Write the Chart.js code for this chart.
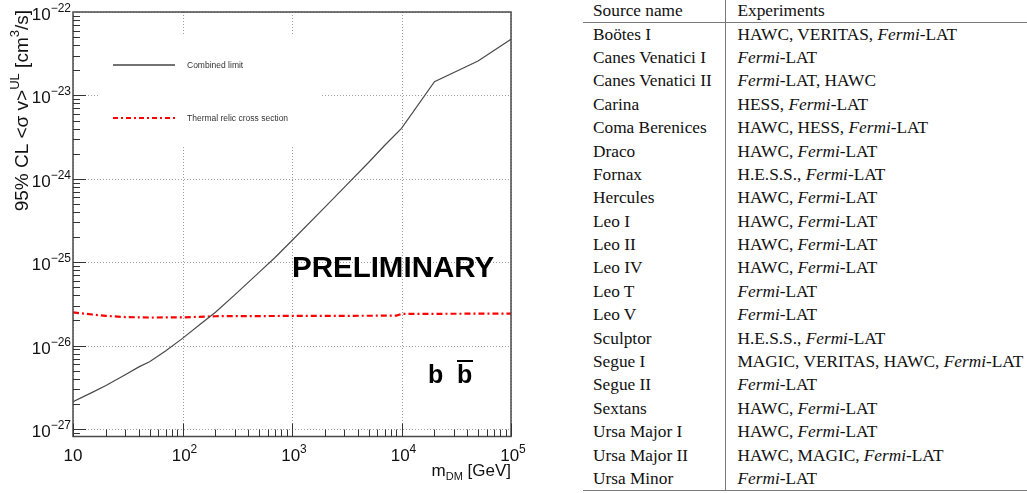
<!DOCTYPE html>
<html>
<head>
<meta charset="utf-8">
<title>bb limit and dwarf sources</title>
<script src="https://cdn.jsdelivr.net/npm/chart.js@4.4.1/dist/chart.umd.min.js"></script>
<style>
  html, body { margin: 0; padding: 0; background: #fff; }
  body { width: 1027px; height: 493px; position: relative; overflow: hidden; }
  #plotWrap { position: absolute; left: 0; top: 0; width: 560px; height: 493px; }
  #sources {
    position: absolute; left: 583px; top: 0; width: 444px;
    border-collapse: collapse; table-layout: fixed;
    font-family: "Liberation Serif", "Times New Roman", serif; font-size: 17.3px; color: #111;
  }
  #sources td, #sources th { padding: 0; font-weight: normal; text-align: left; white-space: nowrap; line-height: 1; }
  #sources th { height: 21.5px; border-bottom: 1.3px solid #7a7a7a; }
  #sources td { height: 23.4px; }
  #sources tr:last-child td { border-bottom: 1.3px solid #7a7a7a; }
  #sources .c1 { width: 142px; padding-left: 10px; box-sizing: border-box; border-right: 1.5px solid #7a7a7a; }
  #sources .c2 { padding-left: 12px; }
  #sources i { font-style: italic; }
</style>
</head>
<body>
<div id="plotWrap"><canvas id="limitChart" width="560" height="493"></canvas></div>
<table id="sources"><thead></thead><tbody></tbody></table>

<script>
// --- Data ------------------------------------------------------
const massGeV = [10, 15, 20, 30, 40, 50, 70, 100, 150, 200, 300, 500, 700, 1000, 2000, 3000, 5000, 7000,
                 10000, 20000, 50000, 100000];
const combinedLimit = [2.12e-27, 2.75e-27, 3.33e-27, 4.48e-27, 5.56e-27, 6.41e-27, 8.61e-27, 1.22e-26,
                       1.87e-26, 2.51e-26, 4.06e-26, 7.55e-26, 1.14e-25, 1.82e-25, 4.57e-25, 7.9e-25,
                       1.57e-24, 2.51e-24, 4.03e-24, 1.46e-23, 2.58e-23, 4.7e-23];

const thermalMass = [10, 15, 20, 30, 50, 100, 200, 500, 1000, 5000, 9000, 10000, 100000];
const thermalRelic = [2.5e-26, 2.36e-26, 2.27e-26, 2.2e-26, 2.17e-26, 2.18e-26, 2.25e-26, 2.26e-26, 2.27e-26,
                      2.28e-26, 2.29e-26, 2.4e-26, 2.42e-26];

const xTicks = [10, 100, 1000, 10000, 100000];
const xTickExp = ['', '2', '3', '4', '5'];
const yTicks = [1e-27, 1e-26, 1e-25, 1e-24, 1e-23, 1e-22];
const yTickExp = ['\u221227', '\u221226', '\u221225', '\u221224', '\u221223', '\u221222'];

const sourceNames = ['Bo\u00f6tes I', 'Canes Venatici I', 'Canes Venatici II', 'Carina', 'Coma Berenices', 'Draco',
  'Fornax', 'Hercules', 'Leo I', 'Leo II', 'Leo IV', 'Leo T', 'Leo V', 'Sculptor', 'Segue I', 'Segue II',
  'Sextans', 'Ursa Major I', 'Ursa Major II', 'Ursa Minor'];
const sourceExperiments = ['HAWC, VERITAS, Fermi-LAT', 'Fermi-LAT', 'Fermi-LAT, HAWC', 'HESS, Fermi-LAT',
  'HAWC, HESS, Fermi-LAT', 'HAWC, Fermi-LAT', 'H.E.S.S., Fermi-LAT', 'HAWC, Fermi-LAT', 'HAWC, Fermi-LAT',
  'HAWC, Fermi-LAT', 'HAWC, Fermi-LAT', 'Fermi-LAT', 'Fermi-LAT', 'H.E.S.S., Fermi-LAT',
  'MAGIC, VERITAS, HAWC, Fermi-LAT', 'Fermi-LAT', 'HAWC, Fermi-LAT', 'HAWC, Fermi-LAT',
  'HAWC, MAGIC, Fermi-LAT', 'Fermi-LAT'];

// --- Table -----------------------------------------------------
document.querySelector('#sources thead').innerHTML =
  '<tr><th class="c1">Source name</th><th class="c2">Experiments</th></tr>';
const tbody = document.querySelector('#sources tbody');
sourceNames.forEach((name, i) => {
  const tr = document.createElement('tr');
  const exp = sourceExperiments[i].replace(/Fermi/g, '<i>Fermi</i>');
  tr.innerHTML = `<td class="c1">${name}</td><td class="c2">${exp}</td>`;
  tbody.appendChild(tr);
});

// --- ROOT-like frame, ticks and labels -------------------------
const SANS = '"Liberation Sans", Arial, Helvetica, sans-serif';

// draws a run of [text, fontSize, rise] pieces starting at x
function drawPieces(ctx, pieces, x, y) {
  pieces.forEach(([txt, size, rise, bold]) => {
    ctx.font = (bold ? 'bold ' : '') + size + 'px ' + SANS;
    ctx.fillText(txt, x, y + rise);
    x += ctx.measureText(txt).width;
  });
  return x;
}
function piecesWidth(ctx, pieces) {
  let w = 0;
  pieces.forEach(([txt, size, , bold]) => {
    ctx.font = (bold ? 'bold ' : '') + size + 'px ' + SANS;
    w += ctx.measureText(txt).width;
  });
  return w;
}

const rootStyle = {
  id: 'rootStyle',
  beforeDatasetsDraw(chart) {
    const { ctx, chartArea: a, scales: { x, y } } = chart;
    ctx.save();
    ctx.strokeStyle = '#9c9c9c';
    ctx.lineWidth = 1;
    ctx.setLineDash([1, 2]);
    xTicks.forEach(v => {
      const px = Math.round(x.getPixelForValue(v)) + 0.5;
      ctx.beginPath(); ctx.moveTo(px, a.top); ctx.lineTo(px, a.bottom); ctx.stroke();
    });
    yTicks.forEach(v => {
      const py = Math.round(y.getPixelForValue(v)) + 0.5;
      ctx.beginPath(); ctx.moveTo(a.left, py); ctx.lineTo(a.right, py); ctx.stroke();
    });
    // legend pad hides the grid behind it
    ctx.fillStyle = '#fff';
    ctx.fillRect(a.left + 27, a.top + 24, 220, 109);
    ctx.restore();
  },
  afterDatasetsDraw(chart) {
    const { ctx, chartArea: a, scales: { x, y } } = chart;
    ctx.save();

    // frame
    ctx.strokeStyle = '#4a4a4a';
    ctx.lineWidth = 1.5;
    ctx.strokeRect(a.left, a.top, a.right - a.left, a.bottom - a.top);

    // ticks
    ctx.strokeStyle = '#333';
    ctx.lineWidth = 1;
    for (let e = -28; e <= -23; e++) {
      for (let k = 1; k <= 9; k++) {
        const v = k * Math.pow(10, e);
        if (v < y.min * 0.999 || v > y.max * 1.001) continue;
        const py = Math.round(y.getPixelForValue(v)) + 0.5;
        const len = k === 1 ? 13 : 7;
        ctx.beginPath(); ctx.moveTo(a.left, py); ctx.lineTo(a.left + len, py); ctx.stroke();
      }
    }
    for (let e = 1; e <= 5; e++) {
      for (let k = 1; k <= 9; k++) {
        const v = k * Math.pow(10, e);
        if (v > x.max * 1.001) continue;
        const px = Math.round(x.getPixelForValue(v)) + 0.5;
        const len = k === 1 ? 13 : 7;
        ctx.beginPath(); ctx.moveTo(px, a.bottom); ctx.lineTo(px, a.bottom - len); ctx.stroke();
      }
    }

    ctx.fillStyle = '#111';
    ctx.textBaseline = 'alphabetic';
    ctx.textAlign = 'left';

    // x tick labels
    xTicks.forEach((v, i) => {
      const pieces = [['10', 17, 0]];
      if (xTickExp[i]) pieces.push([xTickExp[i], 12, -8]);
      const w = piecesWidth(ctx, pieces);
      drawPieces(ctx, pieces, x.getPixelForValue(v) - w / 2 + (xTickExp[i] ? 2 : 0), 461);
    });

    // y tick labels
    yTicks.forEach((v, i) => {
      const pieces = [['10', 17, 0], [yTickExp[i], 12, -8]];
      const w = piecesWidth(ctx, pieces);
      drawPieces(ctx, pieces, a.left - 2 - w, y.getPixelForValue(v) + 8);
    });

    // axis titles
    const xTitle = [['m', 17, 0], ['DM', 11, 4], [' [GeV]', 17, 0]];
    drawPieces(ctx, xTitle, a.right - piecesWidth(ctx, xTitle), 476);

    const yTitle = [['95% CL <\u03c3 v>', 19, 0], ['UL', 13, -9], [' [cm', 19, 0], ['3', 13, -9], ['/s]', 19, 0]];
    ctx.save();
    ctx.translate(28, a.top - 2);
    ctx.rotate(-Math.PI / 2);
    drawPieces(ctx, yTitle, -piecesWidth(ctx, yTitle), 0);
    ctx.restore();

    // legend
    const lx = a.left + 40, lx2 = a.left + 102, tx = a.left + 114;
    ctx.lineWidth = 1.3;
    ctx.strokeStyle = '#444';
    ctx.beginPath(); ctx.moveTo(lx, a.top + 53); ctx.lineTo(lx2, a.top + 53); ctx.stroke();
    ctx.lineWidth = 2.2;
    ctx.strokeStyle = '#ff0000';
    ctx.setLineDash([5, 3, 2, 3]);
    ctx.beginPath(); ctx.moveTo(lx, a.top + 106); ctx.lineTo(lx2, a.top + 106); ctx.stroke();
    ctx.setLineDash([]);
    ctx.fillStyle = '#333';
    ctx.font = '8.5px ' + SANS;
    ctx.fillText('Combined limit', tx, a.top + 56);
    ctx.fillText('Thermal relic cross section', tx, a.top + 109);

    // labels on the pad
    ctx.fillStyle = '#000';
    ctx.font = 'bold 29.5px ' + SANS;
    ctx.fillText('PRELIMINARY', 292, 277);
    ctx.font = 'bold 25px ' + SANS;
    ctx.fillText('b', 428, 383);
    ctx.fillText('b', 457, 383);
    ctx.lineWidth = 2;
    ctx.strokeStyle = '#000';
    ctx.beginPath(); ctx.moveTo(457, 361); ctx.lineTo(473, 361); ctx.stroke();

    ctx.restore();
  }
};

// --- Chart ---------------------------------------------------------
new Chart(document.getElementById('limitChart'), {
  type: 'line',
  data: {
    datasets: [{
      label: 'Combined limit',
      data: massGeV.map((m, i) => ({ x: m, y: combinedLimit[i] })),
      borderColor: '#4a4a4a',
      borderWidth: 1.2,
      pointRadius: 0,
      tension: 0
    }, {
      label: 'Thermal relic cross section',
      data: thermalMass.map((m, i) => ({ x: m, y: thermalRelic[i] })),
      borderColor: '#ff0000',
      borderWidth: 2.2,
      borderDash: [6, 3, 2, 3],
      pointRadius: 0,
      tension: 0
    }]
  },
  options: {
    responsive: false,
    animation: false,
    devicePixelRatio: 1,
    layout: { padding: { left: 73, top: 12, right: 49, bottom: 56.5 } },
    plugins: { legend: { display: false }, tooltip: { enabled: false } },
    scales: {
      x: { type: 'logarithmic', min: 10, max: 100000, display: false },
      y: { type: 'logarithmic', min: 8.13e-28, max: 1e-22, display: false }
    }
  },
  plugins: [rootStyle]
});
</script>
</body>
</html>
